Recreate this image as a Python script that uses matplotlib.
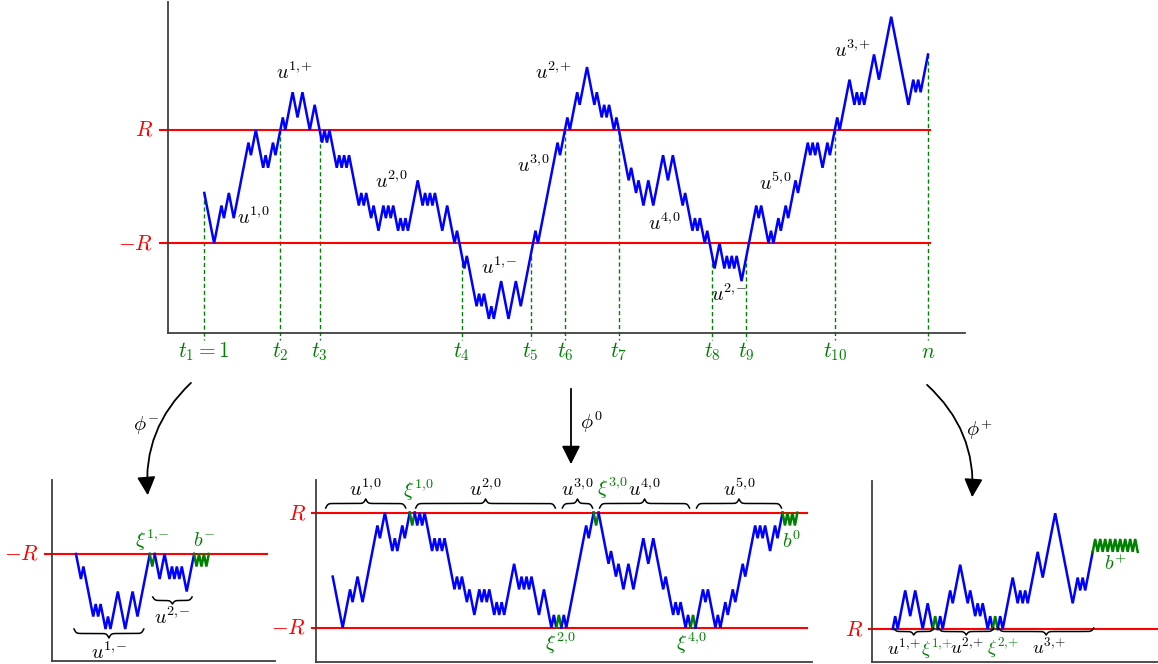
import numpy as np
import matplotlib
matplotlib.use("Agg")
import matplotlib.pyplot as plt
from matplotlib.lines import Line2D
from matplotlib.patches import FancyArrowPatch

plt.rcParams['mathtext.fontset'] = 'cm'
plt.rcParams['font.family'] = ['DejaVu Serif']

W, H = 1158, 664

# ---------------- data ----------------
R_LEVEL = 9          # level of the line R
MR_LEVEL = 0         # level of the line -R
# turning points of the +/-1 walk (levels), first point at time 1
turn_levels = [4, 0, 3, 2, 4, 2, 8, 7, 9, 6, 7, 6, 8, 7, 10, 9, 12, 10, 12, 9, 11, 8,
               9, 8, 9, 6, 7, 6, 7, 6, 7, 3, 4, 3, 4, 2, 3, 1, 3, 2, 3, 2, 3, 1, 2, 1,
               2, 1, 5, 3, 4, 3, 4, 3, 4, 1, 3, 0, 1, -2, -1, -5, -4, -5, -4, -6, -5,
               -6, -3, -6, -3, -5, 1, 0, 8, 7, 10, 9, 12, 11, 14, 11, 12, 10, 11, 10,
               11, 9, 10, 5, 6, 4, 5, 3, 5, 3, 7, 5, 7, 3, 4, 1, 2, 1, 2, 1, 0, 1, -2,
               0, -2, -1, -2, -1, -2, -1, -3, 3, 2, 3, 0, 1, 0, 2, 1, 3, 2, 5, 4, 8,
               7, 8, 7, 8, 6, 8, 7, 10, 9, 13, 11, 12, 11, 12, 11, 15, 13, 18, 11, 13,
               12, 13, 12, 15]
cross_times = [1, 32, 48, 106, 134, 148, 170, 208, 222, 258, 296]
cross_labels = [r'$t_1=1$', r'$t_2$', r'$t_3$', r'$t_4$', r'$t_5$', r'$t_6$', r'$t_7$',
                r'$t_8$', r'$t_9$', r'$t_{10}$', r'$n$']

# inserted pieces (levels)
xi_10 = [9, 8, 9]
xi_20 = [0, 1, 0]
xi_30 = [9, 8, 9]
xi_40 = [0, 1, 0]
b_0 = [9, 8, 9, 8, 9, 8, 9]
xi_1m = [0, -1, 0]
b_m = [0, -1, 0, -1, 0, -1, 0]
xi_1p = [9, 10, 9]
xi_2p = [9, 10, 9]
b_p = [15, 16, 15, 16, 15, 16, 15, 16, 15, 16, 15, 16, 15, 16, 15, 16, 15, 16, 15]

# ---------------- walk ----------------
turn_levels = np.array(turn_levels, dtype=float)
turn_times = 1 + np.concatenate([[0], np.cumsum(np.abs(np.diff(turn_levels)))])
n_last = int(turn_times[-1])
walk_t = np.arange(1, n_last + 1)
walk = np.interp(walk_t, turn_times, turn_levels)

def seg(a, b):
    return list(walk[a - 1:b])

t1, t2, t3, t4, t5, t6, t7, t8, t9, t10, tn = cross_times
u10 = seg(t1, t2); u1p = seg(t2, t3); u20 = seg(t3, t4 - 1); u1m = seg(t4 - 1, t5 + 1)
u30 = seg(t5 + 1, t6); u2p = seg(t6, t7); u40 = seg(t7, t8 - 1); u2m = seg(t8 - 1, t9 + 1)
u50 = seg(t9 + 1, t10); u3p = seg(t10, tn)

BLUE = '#0000ff'; RED = '#ff0000'; GREEN = '#008000'; SPINE = '#404040'

fig = plt.figure(figsize=(W / 100, H / 100), dpi=100)

def make_ax(left, top, right, bottom, xlim, ylim):
    ax = fig.add_axes([left / W, 1 - bottom / H, (right - left) / W, (bottom - top) / H])
    ax.set_xlim(*xlim); ax.set_ylim(*ylim)
    for s in ['top', 'right']:
        ax.spines[s].set_visible(False)
    for s in ['left', 'bottom']:
        ax.spines[s].set_color(SPINE); ax.spines[s].set_linewidth(1.3)
    ax.set_xticks([]); ax.set_yticks([])
    ax.patch.set_alpha(0)
    return ax

def px(ax, x, y):
    p = ax.transData.transform((x, y))
    return p[0], H - p[1]

def ftext(x, y, s, color='black', size=14.5, ha='center', va='center'):
    fig.text(x / W, 1 - y / H, s, color=color, fontsize=size, ha=ha, va=va)

def sup(base, a, b):
    return r'$%s^{%s,\!{%s}}$' % (base, a, b)

def brace(x0, x1, y_tip, h, beta=0.9):
    n = 401
    xs = np.linspace(x0, x1, n)
    half = xs[: n // 2 + 1]
    yh = 1 / (1 + np.exp(-beta * (half - half[0]))) + 1 / (1 + np.exp(-beta * (half - half[-1])))
    yy = np.concatenate([yh, yh[-2::-1]])
    ys = y_tip + (yy - 0.5) * h
    fig.add_artist(Line2D(xs / W, 1 - ys / H, color='black', lw=1.1,
                          transform=fig.transFigure))

def arrow(p0, p1, rad):
    a = FancyArrowPatch((p0[0] / W, 1 - p0[1] / H), (p1[0] / W, 1 - p1[1] / H),
                        transform=fig.transFigure, connectionstyle=f"arc3,rad={rad}",
                        arrowstyle="-|>,head_length=0.8,head_width=0.4",
                        mutation_scale=14, lw=1.3, color='black')
    fig.add_artist(a)

# ---------------- top chart ----------------
dx0 = (928 - 204.3) / (n_last - 1)
dy0 = (243.3 - 130) / 9
axT = make_ax(168, 2, 965, 333,
              (1 - (204.3 - 168) / dx0, 1 + (965 - 204.3) / dx0),
              (-(333 - 243.3) / dy0, (243.3 - 2) / dy0))
xr0 = 1 - (204.3 - 160) / dx0
xr1 = 1 + (930 - 204.3) / dx0
for lev in (R_LEVEL, MR_LEVEL):
    axT.plot([xr0, xr1], [lev, lev], color=RED, lw=1.5, clip_on=False, zorder=2)
ybot = -(340 - 243.3) / dy0
for tc, lab in zip(cross_times, cross_labels):
    axT.plot([tc, tc], [walk[tc - 1], ybot], color=GREEN, lw=1.0, ls=(0, (3, 2)),
             clip_on=False, zorder=1)
    x, _ = px(axT, tc, 0)
    ftext(x, 352, lab, color=GREEN, size=15.5)
axT.plot(walk_t, walk, color=BLUE, lw=1.8, zorder=3, solid_joinstyle='miter')

ftext(153, 130, r'$R$', color=RED, size=15.5, ha='right')
ftext(153, 243, r'$-R$', color=RED, size=15.5, ha='right')
for (x, y, s) in [(253, 217, sup('u', 1, 0)), (294, 72, sup('u', 1, '+')),
                  (391, 181, sup('u', 2, 0)), (499, 267, sup('u', 1, '-')),
                  (533, 165, sup('u', 3, 0)), (553, 72, sup('u', 2, '+')),
                  (664, 223, sup('u', 4, 0)), (729, 294, sup('u', 2, '-')),
                  (775, 183, sup('u', 5, 0)), (852, 50, sup('u', 3, '+'))]:
    ftext(x, y, s)

# ---------------- helper to draw concatenated pieces ----------------
def draw_pieces(ax, pieces):
    off = 0
    spans = []
    for lev, col in pieces:
        xs = off + np.arange(len(lev))
        ax.plot(xs, lev, color=col, lw=1.8, solid_joinstyle='miter', zorder=3)
        spans.append((off, off + len(lev) - 1))
        off += len(lev) - 1
    return spans

# ---------------- bottom left (phi^-) ----------------
dxL, dyL = 2.46, 12.5
axL = make_ax(51.7, 480, 275, 661, ((51.7 - 76) / dxL, (275 - 76) / dxL),
              (-(661 - 554) / dyL, (554 - 480) / dyL))
axL.plot([(45 - 76) / dxL, (267 - 76) / dxL], [MR_LEVEL, MR_LEVEL], color=RED, lw=1.5,
         clip_on=False, zorder=2)
spL = draw_pieces(axL, [(u1m, BLUE), (xi_1m, GREEN), (u2m, BLUE), (b_m, GREEN)])
ftext(39, 554, r'$-R$', color=RED, size=15.5, ha='right')
a, b = px(axL, spL[0][0], 0)[0], px(axL, spL[0][1], 0)[0]
brace(a - 2, b - 6, 629, 9)
ftext((a + b) / 2 - 4, 652, sup('u', 1, '-'))
a, b = px(axL, spL[2][0], 0)[0], px(axL, spL[2][1], 0)[0]
brace(a - 2, b - 2, 597, 7)
ftext((a + b) / 2 - 2, 617, sup('u', 2, '-'))
ftext(152, 540, sup(r'\xi', 1, '-'), color=GREEN)
ftext(204, 540, r'$b^{-}$', color=GREEN)

# ---------------- bottom middle (phi^0) ----------------
dxM, dyM = 2.485, 12.78
axM = make_ax(316, 480, 812, 661.7, ((316 - 332.7) / dxM, (812 - 332.7) / dxM),
              (-(661.7 - 627.7) / dyM, (627.7 - 480) / dyM))
for lev in (R_LEVEL, MR_LEVEL):
    axM.plot([(311.7 - 332.7) / dxM, (807 - 332.7) / dxM], [lev, lev], color=RED, lw=1.5,
             clip_on=False, zorder=2)
spM = draw_pieces(axM, [(u10, BLUE), (xi_10, GREEN), (u20, BLUE), (xi_20, GREEN),
                        (u30, BLUE), (xi_30, GREEN), (u40, BLUE), (xi_40, GREEN),
                        (u50, BLUE), (b_0, GREEN)])
ftext(306, 513, r'$R$', color=RED, size=15.5, ha='right')
ftext(306, 628, r'$-R$', color=RED, size=15.5, ha='right')
for idx, k in [(0, 1), (2, 2), (4, 3), (6, 4), (8, 5)]:
    a, b = px(axM, spM[idx][0], 0)[0], px(axM, spM[idx][1], 0)[0]
    if idx == 0:
        a, b = a - 7, b - 4
    else:
        a, b = a + 1, b - 1
    brace(a, b, 508, -9)
    ftext((a + b) / 2, 489, sup('u', k, 0))
ftext(418, 490, sup(r'\xi', 1, 0), color=GREEN)
ftext(612, 488, sup(r'\xi', 3, 0), color=GREEN)
ftext(560, 643, sup(r'\xi', 2, 0), color=GREEN)
ftext(691, 643, sup(r'\xi', 4, 0), color=GREEN)
ftext(792, 541, r'$b^{0}$', color=GREEN)

# ---------------- bottom right (phi^+) ----------------
dxP, dyP = 2.5, 12.86
axP = make_ax(872.3, 481, 1156.7, 661.7, ((872.3 - 892.7) / dxP, (1156.7 - 892.7) / dxP),
              (R_LEVEL - (661.7 - 629) / dyP, R_LEVEL + (629 - 481) / dyP))
axP.plot([(869 - 892.7) / dxP, (1158 - 892.7) / dxP], [R_LEVEL, R_LEVEL], color=RED, lw=1.5,
         clip_on=False, zorder=2)
spP = draw_pieces(axP, [(u1p, BLUE), (xi_1p, GREEN), (u2p, BLUE), (xi_2p, GREEN),
                        (u3p, BLUE), (b_p, GREEN)])
ftext(863, 629, r'$R$', color=RED, size=15.5, ha='right')
for idx in (0, 2, 4):
    a, b = px(axP, spP[idx][0], 0)[0], px(axP, spP[idx][1], 0)[0]
    brace(a + 1, b + 1, 628, 7)
ftext(904, 649, sup('u', 1, '+'), size=13.5)
ftext(937, 649, sup(r'\xi', 1, '+'), color=GREEN, size=13.5)
ftext(967, 648, sup('u', 2, '+'), size=13.5)
ftext(1003, 648, sup(r'\xi', 2, '+'), color=GREEN, size=13.5)
ftext(1049, 648, sup('u', 3, '+'), size=13.5)
ftext(1116, 564, r'$b^{+}$', color=GREEN)

# ---------------- arrows ----------------
arrow((193, 381), (148, 498), 0.25)
arrow((571, 386), (571, 467), 0.0)
arrow((925, 383), (972, 500), -0.25)
ftext(146, 425, r'$\phi^{-}$')
ftext(591, 422, r'$\phi^{0}$')
ftext(979, 430, r'$\phi^{+}$')

fig.savefig('out.png', dpi=100)
